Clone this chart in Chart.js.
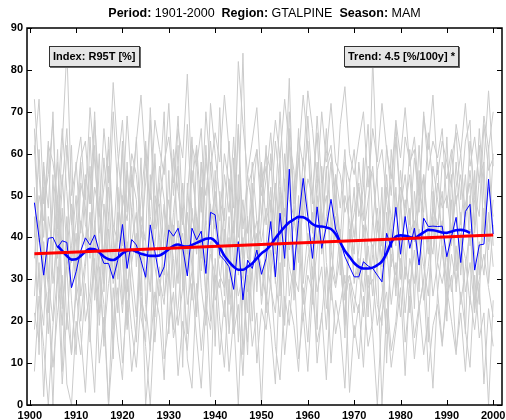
<!DOCTYPE html>
<html>
<head>
<meta charset="utf-8">
<script src="https://cdn.jsdelivr.net/npm/chart.js@4.4.1/dist/chart.umd.min.js"></script>
<style>
  html, body { margin: 0; padding: 0; background: #fff; }
  #wrap { position: relative; width: 506px; height: 420px; font-family: "Liberation Sans", Arial, sans-serif; }
  #c { position: absolute; left: 0; top: 0; }
  #title { position: absolute; left: 27px; width: 475px; top: 6px; text-align: center; font-size: 12.5px; white-space: pre; color: #000; }
  .box { position: absolute; top: 46px; height: 19px; line-height: 19px; background: #e6e6e6; border: 1px solid #333; box-shadow: 1px 1px 0 #666; font-weight: bold; font-size: 11px; padding: 0 3px; white-space: pre; color: #000; }
</style>
</head>
<body>
<div id="wrap">
  <canvas id="c" width="506" height="420"></canvas>
  <div id="title"><b>Period:</b> 1901-2000  <b>Region:</b> GTALPINE  <b>Season:</b> MAM</div>
  <div class="box" style="left:49px;">Index: R95T [%]</div>
  <div class="box" style="left:344px;">Trend: 4.5 [%/100y] *</div>
</div>
<script>
const years = Array.from({length: 100}, (_, i) => 1901 + i);

const regionMean = [
  48.3,40.0,31.0,39.8,40.0,37.6,39.2,38.8,28.0,31.8,
  36.8,39.9,38.2,40.6,36.6,33.8,33.8,30.2,34.6,43.1,
  32.6,39.5,38.2,34.5,30.5,43.0,36.6,30.5,33.0,41.8,
  40.3,42.2,37.5,30.8,42.2,39.4,41.5,31.4,46.0,45.4,
  35.8,34.6,33.0,27.6,39.0,25.1,34.6,32.6,37.0,31.2,
  35.0,43.8,30.6,45.8,35.0,56.3,32.2,44.0,54.1,45.0,
  35.0,47.3,37.4,42.6,49.1,42.0,39.2,35.4,33.0,30.6,
  30.6,34.2,33.2,32.6,31.0,29.4,41.0,37.6,47.2,36.0,
  45.0,37.4,42.2,33.4,44.6,42.6,42.7,42.6,42.7,35.4,
  40.2,44.8,34.0,46.2,47.9,32.2,38.2,38.4,53.9,40.8
];

const smoothYears = [
  1906,1907,1908,1909,1910,1911,1912,1913,1914,1915,
  1916,1917,1918,1919,1920,1921,1922,1923,1924,1925,
  1926,1927,1928,1929,1930,1931,1932,1933,1934,1935,
  1936,1937,1938,1939,1940,1941,1942,1943,1944,1945,
  1946,1947,1948,1949,1950,1951,1952,1953,1954,1955,
  1956,1957,1958,1959,1960,1961,1962,1963,1964,1965,
  1966,1967,1968,1969,1970,1971,1972,1973,1974,1975,
  1976,1977,1978,1979,1980,1981,1982,1983,1984,1985,
  1986,1987,1988,1989,1990,1991,1992,1993,1994,1995
];
const smoothValues = [
  38.0,36.8,35.6,34.7,34.8,35.6,36.6,37.3,37.2,36.4,
  35.4,34.8,34.6,35.2,36.2,36.8,37.0,36.6,36.1,35.8,
  35.6,35.6,35.7,36.3,37.2,38.0,38.3,37.9,37.8,38.2,
  38.7,39.2,39.7,39.8,39.1,37.6,35.6,34.2,33.0,32.3,
  32.3,33.0,33.8,35.0,36.2,37.0,38.2,39.8,41.2,42.5,
  43.6,44.3,44.9,44.8,44.2,43.2,42.7,42.6,42.4,42.0,
  40.8,38.8,36.8,35.4,33.9,33.0,32.6,32.6,32.8,33.4,
  34.3,36.2,38.8,40.2,40.5,40.4,40.1,39.8,40.5,41.2,
  41.8,41.7,41.5,41.2,41.1,41.4,41.7,41.8,41.6,41.1
];

const trendYears = [1901, 2000];
const trendValues = [36.1, 40.6];

const station01 = [52,28,19,45,37,61,24,33,12,29,44,38,57,31,22,48,35,18,41,63,27,39,46,21,15,55,33,26,40,49,38,62,30,17,47,36,52,24,58,43,31,28,45,20,49,12,34,39,44,26,38,52,29,50,33,66,25,41,59,47,30,54,36,45,58,40,37,29,31,22,35,27,40,38,24,19,46,33,52,30,49,41,44,27,55,39,47,43,51,28,42,50,31,48,53,22,36,41,62,38];
const station02 = [73,55,40,62,58,49,66,51,34,44,59,63,48,70,41,52,61,38,57,68,46,60,55,42,39,71,50,47,58,64,53,69,45,36,62,57,66,43,72,60,49,44,63,41,67,35,52,56,61,45,54,65,48,70,51,78,43,59,74,62,48,69,53,60,72,58,55,46,50,40,52,44,57,55,42,38,62,50,67,48,64,58,61,46,70,56,63,59,66,47,59,65,49,63,68,41,54,58,75,57];
const station03 = [18,34,2,27,9,22,31,5,0,20,12,29,17,3,33,24,0,15,28,10,25,8,19,36,0,14,27,21,6,32,16,23,38,11,4,29,13,26,2,35,20,9,30,17,24,7,31,14,22,0,27,18,5,34,12,25,19,8,28,15,33,10,22,6,29,17,24,31,3,19,11,26,14,20,35,0,23,9,18,28,7,30,16,24,12,21,4,27,15,25,31,13,22,8,26,18,29,5,23,14];
const station04 = [40,61,33,22,55,29,47,18,38,50,26,35,64,42,19,37,52,30,46,24,58,33,21,45,39,27,60,36,48,17,43,29,53,38,25,61,32,44,20,56,35,47,24,59,31,40,22,53,27,45,62,30,48,26,54,37,43,66,29,41,24,50,38,57,28,45,34,21,39,52,30,43,25,36,47,33,55,41,28,48,37,22,51,40,33,26,45,58,36,30,49,27,40,35,24,56,31,47,39,60];
const station05 = [66,41,52,30,48,58,36,62,44,27,53,47,35,68,50,29,57,43,39,61,34,55,49,26,63,45,38,52,70,31,46,57,28,50,64,40,35,59,47,42,71,38,54,33,46,84,41,49,36,58,43,60,37,52,45,63,56,34,48,69,51,39,47,66,42,55,31,50,44,36,58,46,40,83,53,38,35,61,45,52,47,55,39,62,44,36,57,49,41,64,38,52,60,45,56,43,66,50,37,49];
const station06 = [22,15,39,28,0,33,19,45,25,12,37,20,27,44,31,16,29,38,22,47,18,34,41,26,20,38,15,30,24,43,35,19,28,46,33,22,40,27,36,31,28,42,17,35,26,31,45,20,38,33,25,37,30,21,43,33,28,50,24,35,40,27,33,18,37,29,42,25,31,26,22,35,28,30,19,26,38,24,34,21,33,28,37,23,30,41,26,34,29,36,27,38,24,33,42,25,30,36,28,21];
const station07 = [60,73,48,55,68,42,62,85,50,57,64,49,71,58,45,66,53,77,60,47,69,52,63,74,57,49,68,61,55,72,50,66,59,79,53,62,46,70,56,65,58,74,61,47,82,67,55,63,71,52,60,56,68,59,73,62,50,64,57,75,66,53,70,58,62,49,67,76,60,55,63,70,52,66,58,72,61,54,68,59,71,57,64,50,69,61,74,55,63,58,52,67,60,72,57,64,53,69,61,70];
const station08 = [45,12,58,30,20,49,8,38,62,25,33,54,15,41,60,27,46,11,52,35,19,47,36,59,24,13,50,40,31,56,28,44,9,53,37,21,58,34,48,14,51,26,40,18,55,33,12,47,30,57,22,49,36,60,19,44,31,27,53,38,46,18,57,34,25,50,40,16,54,29,37,59,21,45,33,52,10,42,26,49,30,47,23,56,38,15,51,34,44,20,55,32,46,17,50,36,24,58,29,43];
const station09 = [35,50,44,63,29,41,55,37,48,32,58,43,39,52,46,35,64,41,30,50,44,57,33,49,61,38,45,53,36,42,59,40,47,31,56,45,38,62,43,51,37,55,46,64,40,49,35,58,44,39,47,42,53,38,60,49,45,36,52,63,41,58,44,50,37,55,47,61,39,46,53,40,49,57,43,35,52,45,38,56,44,61,39,48,55,42,36,53,47,50,40,58,43,55,38,49,62,41,52,45];
const station10 = [8,26,14,0,19,31,5,22,12,27,17,3,24,35,10,21,0,28,15,6,30,18,9,25,14,0,22,33,11,19,27,7,20,13,29,16,4,24,18,31,12,25,8,21,0,28,15,33,10,23,18,30,14,6,26,19,34,11,22,8,27,15,21,33,10,25,18,4,29,16,24,9,31,17,0,22,27,13,20,35,15,26,11,23,30,8,19,24,14,28,20,12,27,18,9,31,16,22,0,25];
const station11 = [62,39,57,47,70,35,52,66,43,58,41,55,48,62,37,59,44,70,51,38,56,46,64,40,53,68,42,57,49,35,61,51,43,67,45,39,58,50,63,48,44,60,53,38,66,42,55,47,61,50,57,46,63,52,41,70,48,59,45,54,50,65,42,56,60,47,39,58,53,61,45,52,67,43,56,61,49,38,64,47,55,43,59,51,46,65,52,40,58,54,61,48,55,42,63,50,45,67,56,59];
const station12 = [26,44,31,17,38,50,23,35,28,41,20,33,46,25,37,14,42,29,34,22,39,27,15,43,30,36,21,48,26,33,18,37,41,24,32,45,28,19,39,25,30,21,36,44,15,38,27,32,41,24,35,28,22,39,47,26,34,43,20,31,27,37,45,23,33,28,36,19,42,30,33,21,38,26,44,29,17,36,31,40,22,35,29,42,25,33,45,27,38,24,36,29,41,27,34,23,39,31,46,33];

const stations = [station01,station02,station03,station04,station05,station06,station07,station08,station09,station10,station11,station12];

const xTicks = [1900,1910,1920,1930,1940,1950,1960,1970,1980,1990,2000];
const yTicks = [0,10,20,30,40,50,60,70,80,90];

const toXY = (xs, ys) => ys.map((v, i) => ({x: xs[i], y: v}));

const datasets = [];
datasets.push({ data: toXY(trendYears, trendValues), borderColor: '#ff0000', borderWidth: 3, pointRadius: 0, order: 0 });
datasets.push({ data: toXY(smoothYears, smoothValues), borderColor: '#0000ff', borderWidth: 2.6, pointRadius: 0, tension: 0.4, cubicInterpolationMode: 'monotone', order: 1 });
datasets.push({ data: toXY(years, regionMean), borderColor: '#0000ff', borderWidth: 1, pointRadius: 0, order: 2 });
stations.forEach((s, k) => datasets.push({ data: toXY(years, s), borderColor: '#cbcbcb', borderWidth: 1, pointRadius: 0, order: 3 + k }));

const frame = {
  id: 'frame',
  afterDatasetsDraw(chart) {
    const {ctx, chartArea: a, scales} = chart;
    ctx.save();
    ctx.strokeStyle = '#000';
    ctx.lineWidth = 1;
    const L = 5;
    ctx.beginPath();
    xTicks.forEach(t => {
      const px = Math.round(scales.x.getPixelForValue(t)) + 0.5;
      ctx.moveTo(px, a.bottom); ctx.lineTo(px, a.bottom - L);
      ctx.moveTo(px, a.top); ctx.lineTo(px, a.top + L);
    });
    yTicks.forEach(t => {
      const py = Math.round(scales.y.getPixelForValue(t)) + 0.5;
      ctx.moveTo(a.left, py); ctx.lineTo(a.left + L, py);
      ctx.moveTo(a.right, py); ctx.lineTo(a.right - L, py);
    });
    ctx.stroke();
    ctx.lineWidth = 1.5;
    ctx.strokeRect(a.left, a.top, a.right - a.left, a.bottom - a.top);
    ctx.restore();
  }
};

new Chart(document.getElementById('c'), {
  type: 'line',
  data: { datasets },
  options: {
    responsive: false,
    animation: false,
    events: [],
    layout: { padding: { top: 28, right: 4, left: 0, bottom: 0 } },
    plugins: { legend: { display: false }, tooltip: { enabled: false }, title: { display: false } },
    scales: {
      x: {
        type: 'linear', min: 1899.4, max: 2001.9,
        afterBuildTicks: s => { s.ticks = xTicks.map(v => ({value: v})); },
        afterFit: s => { s.height = 15; s.paddingLeft = 0; s.paddingRight = 0; },
        grid: { display: false, drawTicks: false },
        border: { display: false },
        ticks: { color: '#000', font: { family: '"Liberation Sans", Arial, sans-serif', size: 11, weight: 'bold' }, padding: 4, maxRotation: 0, autoSkip: false, callback: v => String(v) }
      },
      y: {
        type: 'linear', min: 0, max: 90,
        afterBuildTicks: s => { s.ticks = yTicks.map(v => ({value: v})); },
        afterFit: s => { s.width = 27; s.paddingTop = 0; s.paddingBottom = 0; },
        grid: { display: false, drawTicks: false },
        border: { display: false },
        ticks: { color: '#000', font: { family: '"Liberation Sans", Arial, sans-serif', size: 11, weight: 'bold' }, padding: 4, callback: v => String(v) }
      }
    }
  },
  plugins: [frame]
});
</script>
</body>
</html>
